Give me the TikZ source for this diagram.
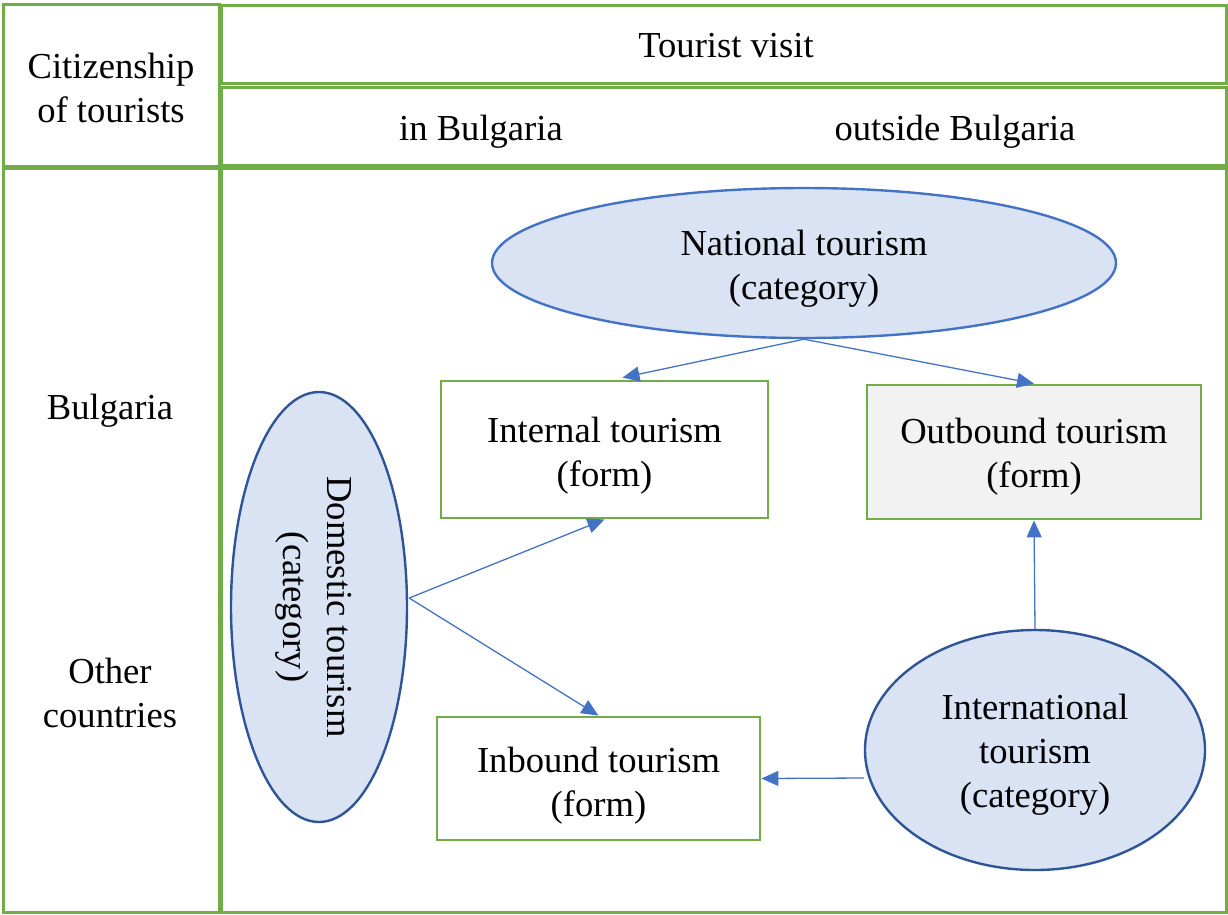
\documentclass[tikz,border=0pt]{standalone}
\usepackage{fontspec}
\setmainfont{Liberation Serif}
\usetikzlibrary{shapes.geometric,arrows.meta,calc}
\definecolor{tgreen}{HTML}{70AD47}
\definecolor{tblue}{HTML}{4472C4}
\definecolor{tdark}{HTML}{2F5597}
\definecolor{tfill}{HTML}{DAE3F3}
\definecolor{tgray}{HTML}{F2F2F2}
\begin{document}
\begin{tikzpicture}[x=1pt,y=-1pt,
  every node/.style={font=\fontsize{36.6pt}{44pt}\selectfont, align=center, inner sep=0pt},
  cell/.style={draw=tgreen, line width=3pt},
  formbox/.style={rectangle, draw=tgreen, line width=2.8pt, fill=white},
  cat/.style={ellipse, draw=tdark, line width=2.4pt, fill=tfill},
  link/.style={draw=tblue, line width=1.3pt, -{Triangle[length=17pt,width=15pt]}}
]
\useasboundingbox (0,0) rectangle (1228,914);
% table
\draw[cell] (3,4) rectangle (219,166);
\draw[cell] (221,5) rectangle (1226,83);
\draw[cell] (221,87) rectangle (1226,165);
\draw[cell] (3,168) rectangle (219,912);
\draw[cell] (221,168) rectangle (1226,912);
% header texts
\node (cit) at (111,88) {Citizenship\\of tourists};
\node (tv) at (726,46) {Tourist visit};
\node (inbg) at (481,132) {in Bulgaria};
\node (outbg) at (955,132) {outside Bulgaria};
\node (bg) at (110,411) {Bulgaria};
\node (oth) at (110,693) {Other\\countries};
% shapes
\node[cat, draw=tblue, minimum width=624pt, minimum height=150pt] (nat) at (804,263) {};
\node[formbox, minimum width=327pt, minimum height=137pt] (int) at (604.5,449.5) {};
\node[formbox, fill=tgray, minimum width=334pt, minimum height=134pt] (out) at (1034,452) {};
\node[formbox, minimum width=323pt, minimum height=123pt] (inb) at (598.5,778.5) {};
\node[cat, minimum width=176pt, minimum height=430pt] (dom) at (319,607) {};
\node[cat, minimum width=340pt, minimum height=240pt] (intl) at (1035,750) {};
% labels
\node (natt) at ($(nat.center)+(0,6)$) {National tourism\\(category)};
\node (intt) at ($(int.center)+(0,6)$) {Internal tourism\\(form)};
\node (outt) at ($(out.center)+(0,5)$) {Outbound tourism\\(form)};
\node (inbt) at ($(inb.center)+(0,7)$) {Inbound tourism\\(form)};
\node[rotate=-90] (domt) at ($(dom.center)+(-5,0)$) {Domestic tourism\\(category)};
\node (intlt) at ($(intl.center)+(0,5)$) {International\\tourism\\(category)};
% connectors
\draw[link] (nat.south) -- ($(int.north)+(18,-2)$);
\draw[link] (nat.south) -- (out.north);
\draw[link] ($(dom.east)+(1,-9)$) -- (int.south);
\draw[link] ($(dom.east)+(1,-9)$) -- (inb.north);
\draw[link] (intl.north) -- (out.south);
\draw[link] ($(intl.west)+(0,28)$) -- (inb.east);
\end{tikzpicture}
\end{document}
